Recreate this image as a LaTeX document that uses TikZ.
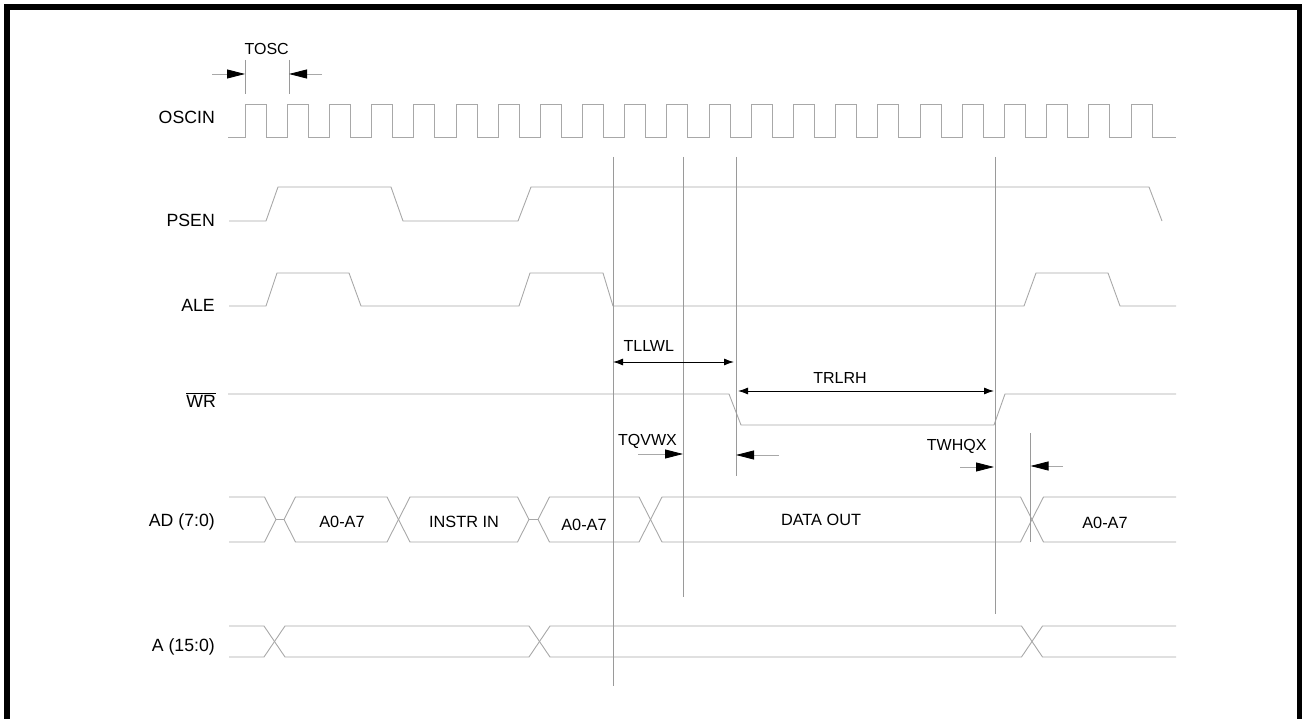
\documentclass[tikz,border=0pt]{standalone}
\usepackage{fontspec}
\setmainfont{Liberation Sans}
\usetikzlibrary{arrows.meta}
\definecolor{wavec}{HTML}{A8A8A8}
\definecolor{markc}{HTML}{9A9A9A}
\begin{document}
\begin{tikzpicture}[x=1pt,y=-1pt,
  wave/.style={draw=wavec, line width=0.9pt},
  marker/.style={draw=markc, line width=0.9pt},
  siglabel/.style={anchor=base east, inner sep=0pt, font=\fontsize{17.7}{20}\selectfont},
  tlabel/.style={anchor=base, inner sep=0pt, font=\fontsize{16}{18}\selectfont},
  buslabel/.style={anchor=base, inner sep=0pt, font=\fontsize{16.3}{18}\selectfont},
  pointer/.style={draw=wavec, line width=0.8pt, -{Triangle[length=18pt,width=9pt,color=black]}},
  dimarrow/.style={draw=black, line width=0.9pt, {Latex[length=10pt,width=7pt]}-{Latex[length=10pt,width=7pt]}}
]
\useasboundingbox (0,0) rectangle (1302,719);
\clip (0,0) rectangle (1302,719);
% frame
\draw[line width=6pt] (7,740) -- (7,7) -- (1299.5,7) -- (1299.5,740);

% signal labels
\node[siglabel] (oscin) at (215,124) {OSCIN};
\node[siglabel] (psen) at (215,227) {PSEN};
\node[siglabel] (ale) at (215,312) {ALE};
\node[siglabel] (wr) at (216,407) {$\overline{\mbox{WR}}$};
\node[siglabel] (ad) at (215,526) {AD (7:0)};
\node[siglabel] (addr) at (215,651) {A (15:0)};

% OSCIN clock
\draw[wave] (228,137) \foreach \k in {0,...,21}{ -- ({245+42.19*\k},137) -- ({245+42.19*\k},104) -- ({266+42.19*\k},104) -- ({266+42.19*\k},137)} -- (1176,137);

% PSEN
\draw[wave] (229,221) -- (266,221) -- (278,187) -- (391,187) -- (403,221) -- (518,221) -- (531,187) -- (1149,187) -- (1162,221);
% ALE
\draw[wave] (229,306) -- (266,306) -- (277,273) -- (349,273) -- (361,306) -- (519,306) -- (530,273) -- (603,273) -- (613,306) -- (1024,306) -- (1036,273) -- (1108,273) -- (1120,306) -- (1176,306);
% WR
\draw[wave] (228,394) -- (729,394) -- (741,425) -- (994,425) -- (1005,394) -- (1176,394);

% AD bus
\draw[wave] (229,497) -- (264.5,497) -- (276,519.5) -- (264.5,542) -- (229,542);
\draw[wave] (276,519.5) -- (284,519.5);
\draw[wave] (284,519.5) -- (295.5,497) -- (387,497) -- (398.5,519.5) -- (387,542) -- (295.5,542) -- cycle;
\draw[wave] (398.5,519.5) -- (410,497) -- (517.5,497) -- (529,519.5) -- (517.5,542) -- (410,542) -- cycle;
\draw[wave] (529,519.5) -- (538,519.5);
\draw[wave] (538,519.5) -- (549.5,497) -- (639,497) -- (650.5,519.5) -- (639,542) -- (549.5,542) -- cycle;
\draw[wave] (650.5,519.5) -- (662,497) -- (1020.5,497) -- (1032,519.5) -- (1020.5,542) -- (662,542) -- cycle;
\draw[wave] (1176,497) -- (1043.5,497) -- (1032,519.5) -- (1043.5,542) -- (1176,542);

\node[buslabel] (ad1) at (342,527) {A0-A7};
\node[buslabel] (ad2) at (464,527) {INSTR IN};
\node[buslabel] (ad3) at (584,530) {A0-A7};
\node[buslabel] (ad4) at (821,525) {DATA OUT};
\node[buslabel] (ad5) at (1105,528) {A0-A7};

% A bus
\draw[wave] (229,626) -- (264,626) -- (274.5,641.5) -- (264,657) -- (229,657);
\draw[wave] (274.5,641.5) -- (285,626) -- (529,626) -- (539.5,641.5) -- (529,657) -- (285,657) -- cycle;
\draw[wave] (539.5,641.5) -- (550,626) -- (1021.5,626) -- (1032,641.5) -- (1021.5,657) -- (550,657) -- cycle;
\draw[wave] (1176,626) -- (1042.5,626) -- (1032,641.5) -- (1042.5,657) -- (1176,657);

% marker lines
\coordinate (m1t) at (613,157);   \coordinate (m1b) at (613,686);
\coordinate (m2t) at (683,157);   \coordinate (m2b) at (683,597);
\coordinate (m3t) at (736.5,157); \coordinate (m3b) at (736.5,476);
\coordinate (m4t) at (995,157);   \coordinate (m4b) at (995,614);
\coordinate (m5t) at (1030.5,433);\coordinate (m5b) at (1030.5,542);
\coordinate (t1t) at (245,60);    \coordinate (t1b) at (245,94);
\coordinate (t2t) at (289,60);    \coordinate (t2b) at (289,94);
\foreach \m in {m1,m2,m3,m4,m5,t1,t2} \draw[marker] (\m t) -- (\m b);

% TOSC
\node[tlabel] (tosc) at (266.7,55) {TOSC};
\coordinate (toscL) at (212,74);  \coordinate (toscA) at (245,74);
\coordinate (toscR) at (322,74);  \coordinate (toscB) at (289,74);
\draw[pointer] (toscL) -- (toscA);
\draw[pointer] (toscR) -- (toscB);

% TLLWL
\node[tlabel] (tllwl) at (648.8,352) {TLLWL};
\coordinate (tllwlA) at (613,362); \coordinate (tllwlB) at (734,362);
\draw[dimarrow] (tllwlA) -- (tllwlB);

% TRLRH
\node[tlabel] (trlrh) at (840,384) {TRLRH};
\coordinate (trlrhA) at (738,391); \coordinate (trlrhB) at (994,391);
\draw[dimarrow] (trlrhA) -- (trlrhB);

% TQVWX
\node[tlabel] (tqvwx) at (647.5,445) {TQVWX};
\coordinate (tqL) at (638,454); \coordinate (tqA) at (683,454);
\coordinate (tqR) at (779,455); \coordinate (tqB) at (736,455);
\draw[pointer] (tqL) -- (tqA);
\draw[pointer] (tqR) -- (tqB);

% TWHQX
\node[tlabel] (twhqx) at (956.7,450) {TWHQX};
\coordinate (twL) at (960,467); \coordinate (twA) at (994,467);
\coordinate (twR) at (1063,466); \coordinate (twB) at (1030.5,466);
\draw[pointer] (twL) -- (twA);
\draw[pointer] (twR) -- (twB);
\end{tikzpicture}
\end{document}
